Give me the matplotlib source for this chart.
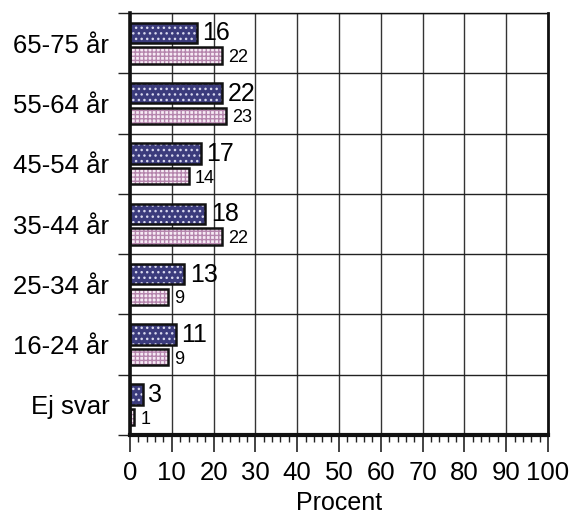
import numpy as np
import matplotlib.pyplot as plt
from matplotlib.ticker import MultipleLocator, FixedLocator

plt.rcParams['font.family'] = ['Liberation Sans', 'DejaVu Sans']

# data, bottom to top
categories = ['Ej svar', '16-24 år', '25-34 år', '35-44 år', '45-54 år', '55-64 år', '65-75 år']
dark_vals = [3, 11, 13, 18, 17, 22, 16]
light_vals = [1, 9, 9, 22, 14, 23, 22]

fig = plt.figure(figsize=(5.74, 5.19), dpi=100)
ax = fig.add_axes([0.2265, 0.1618, 0.7282, 0.8132])

y = np.arange(len(categories))

# dark series: navy with white dots
ax.barh(y, dark_vals, height=0.34, align='edge', color='#3b3b7c',
        edgecolor='#d8d8ee', hatch='...', linewidth=0, zorder=3)
ax.barh(y, dark_vals, height=0.34, align='edge', fill=False,
        edgecolor='#111111', linewidth=1.8, zorder=4)
# light series: pale pink with purple grid
ax.barh(y - 0.07, light_vals, height=-0.27, align='edge', color='#f6eaf4',
        edgecolor='#b585ad', hatch='++++', linewidth=0, zorder=3)
ax.barh(y - 0.07, light_vals, height=-0.27, align='edge', fill=False,
        edgecolor='#111111', linewidth=1.8, zorder=4)

for yi, v in zip(y, dark_vals):
    ax.text(v + 1.3, yi + 0.16, str(v), fontsize=18, va='center', ha='left', zorder=5)
for yi, v in zip(y, light_vals):
    ax.text(v + 1.5, yi - 0.24, str(v), fontsize=13, va='center', ha='left', zorder=5)

ax.set_xlim(0, 100)
ax.set_ylim(-0.5, len(categories) - 0.5)

ax.xaxis.set_major_locator(MultipleLocator(10))
ax.xaxis.set_minor_locator(MultipleLocator(2))
ax.tick_params(axis='x', which='major', direction='out', length=12, width=1.2,
               labelsize=18.5, pad=7, color='#222222')
ax.tick_params(axis='x', which='minor', direction='out', length=5, width=1.0,
               color='#222222')

ax.set_yticks(y)
ax.set_yticklabels(categories, fontsize=18.5)
ax.yaxis.set_minor_locator(FixedLocator(np.arange(-0.5, len(categories), 1.0)))
ax.tick_params(axis='y', which='major', length=0, pad=15)
ax.tick_params(axis='y', which='minor', direction='out', length=9, width=1.0,
               color='#222222')

ax.grid(axis='x', which='major', color='#333333', linewidth=1.0, zorder=0)
ax.grid(axis='y', which='minor', color='#222222', linewidth=1.0, zorder=0)

ax.spines['left'].set_linewidth(2.6)
ax.spines['bottom'].set_linewidth(3.0)
ax.spines['right'].set_linewidth(2.0)
ax.spines['top'].set_linewidth(1.0)
for s in ax.spines.values():
    s.set_color('#111111')
    s.set_zorder(6)

ax.set_xlabel('Procent', fontsize=18, labelpad=4)

fig.savefig('out.png', dpi=100)
